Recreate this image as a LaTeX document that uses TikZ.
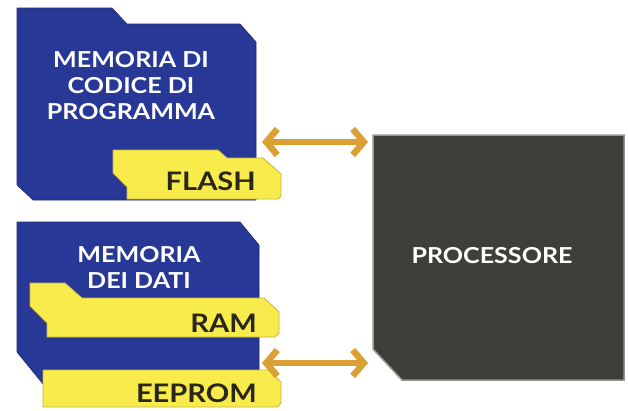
\documentclass[tikz,border=0pt]{standalone}
\usepackage{fontspec}
\setmainfont{Lato}[BoldFont={* Bold}]
\usetikzlibrary{arrows.meta}
\definecolor{memblue}{RGB}{40,56,150}
\definecolor{memblueedge}{RGB}{30,42,110}
\definecolor{tabyellow}{RGB}{248,236,76}
\definecolor{tabedge}{RGB}{205,178,60}
\definecolor{procgray}{RGB}{62,62,58}
\definecolor{procedge}{RGB}{150,150,145}
\definecolor{busgold}{RGB}{218,160,52}
\definecolor{tabtext}{RGB}{42,38,28}
\newcommand{\widetxt}[1]{\scalebox{1.14}[1]{#1}}
\tikzset{
  memshape/.style={fill=memblue, draw=memblueedge, line width=0.6pt, line join=round},
  tabshape/.style={fill=tabyellow, draw=tabedge, line width=0.8pt, line join=round},
  procshape/.style={fill=procgray, draw=procedge, line width=1.5pt},
  memlabel/.style={text=white, font=\bfseries\fontsize{22}{22}\selectfont, inner sep=0pt, anchor=base},
  tablabel/.style={text=tabtext, font=\bfseries\fontsize{25.5}{25.5}\selectfont, inner sep=0pt, anchor=base east},
  proclabel/.style={text=white, font=\bfseries\fontsize{22}{22}\selectfont, inner sep=0pt, anchor=base},
  bus/.style={draw=busgold, line width=6.5pt, {Straight Barb[length=11pt,width=26pt]}-{Straight Barb[length=11pt,width=26pt]}}
}
\begin{document}
\begin{tikzpicture}[x=1pt,y=-1pt]
\useasboundingbox[fill=white] (0,0) rectangle (628,410);
% top memory block
\draw[memshape] (17,8) -- (112,8) -- (127,24) -- (240,24) -- (256,42) -- (256,200) -- (33,200) -- (17,185) -- cycle;
\draw[tabshape] (113,150) -- (218,150) -- (227,158) -- (263,158) -- (281,174) -- (281,196) -- (278,199) -- (127,199) -- (127,187) -- (113,173) -- cycle;
\node[memlabel] (code1) at (131,67) {\widetxt{MEMORIA DI}};
\node[memlabel] (code2) at (131,93) {\widetxt{CODICE DI}};
\node[memlabel] (code3) at (131,119) {\widetxt{PROGRAMMA}};
\node[tablabel] (flash) at (256,190) {\widetxt{FLASH}};
% bottom memory block
\draw[memshape] (17,222) -- (240,222) -- (259,245) -- (259,372) -- (43,384) -- (17,352) -- cycle;
\draw[tabshape] (30,283) -- (65,283) -- (82,298) -- (264,298) -- (279,312) -- (279,333) -- (275,337) -- (47,337) -- (47,323) -- (30,306) -- cycle;
\draw[tabshape] (43,370) -- (268,370) -- (281,382) -- (281,403) -- (277,407) -- (43,407) -- cycle;
\node[memlabel] (data1) at (139,262) {\widetxt{MEMORIA}};
\node[memlabel] (data2) at (139,288) {\widetxt{DEI DATI}};
\node[tablabel] (ram) at (257,332) {\widetxt{RAM}};
\node[tablabel] (eeprom) at (257,402) {\widetxt{EEPROM}};
% processor
\draw[procshape] (373,135) -- (624,135) -- (624,380) -- (402,380) -- (373,349) -- cycle;
\node[proclabel] (proc) at (492,263) {\widetxt{PROCESSORE}};
% buses
\coordinate (codeport) at (262,142);
\coordinate (procport1) at (368,142);
\coordinate (dataport) at (262,363);
\coordinate (procport2) at (368,363);
\draw[bus] (codeport) -- (procport1);
\draw[bus] (dataport) -- (procport2);
\end{tikzpicture}
\end{document}
